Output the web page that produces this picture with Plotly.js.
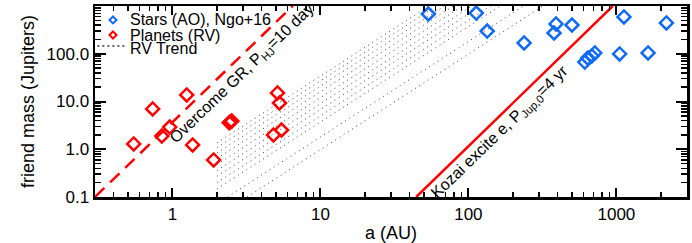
<!DOCTYPE html>
<html><head><meta charset="utf-8">
<script src="https://cdn.plot.ly/plotly-3.0.1.min.js"></script>
<style>html,body{margin:0;padding:0;background:#fff}#chart{width:692px;height:243px}</style>
</head><body><div id="chart"></div>
<script>
// ---- data ----
const starA = [53.6, 113, 134, 238, 391, 379, 501, 612, 641, 682, 715, 1052, 1125, 1637, 2178];
const starM = [680, 713, 299, 168, 420, 272, 400, 67, 81, 90, 104, 99, 589, 104, 441];
const planetA = [0.548, 0.736, 0.848, 0.959, 1.25, 1.37, 1.90, 2.42, 2.47, 2.52, 5.13, 5.29, 4.82, 5.46];
const planetM = [1.29, 6.97, 1.89, 2.92, 13.7, 1.23, 0.596, 3.6, 3.75, 3.9, 15.1, 9.3, 1.99, 2.53];
// RV trend lines: start and end of each (a, mass)
const rvStartA = [2, 2, 2, 2, 2, 2, 2, 2, 2, 2.357, 3.194];
const rvStartM = [1.36, 1.08, 0.84, 0.64, 0.48, 0.36, 0.272, 0.2, 0.148, 0.1, 0.1];
const rvEndA = [54.2, 60.9, 69.0, 79.1, 91.3, 105.4, 121.3, 141.4, 164.4, 235.7, 319.4];
const rvEndM = [1000, 1000, 1000, 1000, 1000, 1000, 1000, 1000, 1000, 1000, 1000];
// limit lines
const grA = [0.3, 6.5], grM = [0.1, 1000];
const kozaiA = [44.4, 946], kozaiM = [0.1, 1000];
// axis ranges, ticks and labels
const xRange = [0.3, 3000], yRange = [0.1, 1000];
const xTickVals = [1, 10, 100, 1000], xTickText = ['1', '10', '100', '1000'];
const yTickVals = [0.1, 1, 10, 100, 1000], yTickText = ['0.1', '1.0', '10.0', '100.0', '1000.0'];
const legendLabels = ['Stars (AO), Ngo+16', 'Planets (RV)', 'RV Trend'];
const grLabel = 'Overcome GR, P<sub>HJ</sub>=10 day';
const kozaiLabel = 'Kozai excite e, P<sub>Jup,0</sub>=4 yr';

// ---- build ----
const BLUE = '#0f6af5', RED = '#ff0000';
const rvX = [], rvY = [];
rvStartA.forEach((a, i) => { rvX.push(a, rvEndA[i], null); rvY.push(rvStartM[i], rvEndM[i], null); });

function minorVals(lo, hi) {
  const v = [];
  for (let e = lo; e <= hi; e++) for (let d = 2; d <= 9; d++) v.push(d * Math.pow(10, e));
  return v;
}

const traces = [
  {x: rvX, y: rvY, mode: 'lines', line: {color: '#444', width: 1, dash: '1px,4px'}, showlegend: false, hoverinfo: 'skip'},
  {x: grA, y: grM, mode: 'lines', line: {color: RED, width: 2.5, dash: '13px,8px'}, showlegend: false},
  {x: kozaiA, y: kozaiM, mode: 'lines', line: {color: RED, width: 2.5}, showlegend: false},
  {x: planetA, y: planetM, mode: 'markers', name: legendLabels[1],
   marker: {symbol: 'diamond-open', size: 10, color: RED, line: {width: 2.5, color: RED}}, showlegend: false},
  {x: starA, y: starM, mode: 'markers', name: legendLabels[0],
   marker: {symbol: 'diamond-open', size: 10, color: BLUE, line: {width: 2.5, color: BLUE}}, showlegend: false},
  // empty trace so the minor-tick overlay axes are drawn
  {x: [], y: [], xaxis: 'x2', yaxis: 'y2', mode: 'markers', showlegend: false, hoverinfo: 'skip'}
];

const FONT = 'Liberation Sans, Arial, Helvetica, sans-serif';
const base = {
  type: 'log', showgrid: false, zeroline: false, showline: true, linecolor: '#000', linewidth: 2.5,
  mirror: 'ticks', ticks: 'inside', tickcolor: '#000', tickmode: 'array', layer: 'above traces',
  tickfont: {family: FONT, size: 17, color: '#000'}
};

const legendShapes = [
  {type: 'path', xref: 'paper', yref: 'paper', xsizemode: 'pixel', ysizemode: 'pixel',
   xanchor: 0.0304, yanchor: 0.927, path: 'M -3.5 0 L 0 3.5 L 3.5 0 L 0 -3.5 Z', line: {color: BLUE, width: 2}},
  {type: 'path', xref: 'paper', yref: 'paper', xsizemode: 'pixel', ysizemode: 'pixel',
   xanchor: 0.0304, yanchor: 0.848, path: 'M -3.5 0 L 0 3.5 L 3.5 0 L 0 -3.5 Z', line: {color: RED, width: 2}},
  {type: 'line', xref: 'paper', yref: 'paper', x0: 0.004, x1: 0.054, y0: 0.79, y1: 0.79,
   line: {color: '#666', width: 2, dash: '2px,3px'}}
];
const legendAnn = legendLabels.map((t, i) => ({
  text: t, xref: 'paper', yref: 'paper', x: 0.0557, y: [0.927, 0.848, 0.775][i],
  xanchor: 'left', yanchor: 'middle', showarrow: false, font: {family: FONT, size: 16, color: '#000'}
}));

const layout = {
  width: 692, height: 243,
  margin: {l: 95, r: 5, t: 6, b: 46, pad: 0},
  paper_bgcolor: '#fff', plot_bgcolor: '#fff',
  showlegend: false,
  font: {family: FONT, color: '#000'},
  xaxis: Object.assign({}, base, {
    range: xRange.map(Math.log10), tickvals: xTickVals, ticktext: xTickText, ticklen: 9, tickwidth: 2,
    title: {text: 'a (AU)', font: {family: FONT, size: 18, color: '#000'}, standoff: 4}
  }),
  yaxis: Object.assign({}, base, {
    range: yRange.map(Math.log10), tickvals: yTickVals, ticktext: yTickText, ticklen: 11, tickwidth: 2,
    title: {text: 'friend mass (Jupiters)', font: {family: FONT, size: 18, color: '#000'}, standoff: 8}
  }),
  xaxis2: Object.assign({}, base, {
    overlaying: 'x', side: 'bottom', range: xRange.map(Math.log10), tickvals: minorVals(-1, 3),
    ticklen: 5, tickwidth: 1.5, showticklabels: false
  }),
  yaxis2: Object.assign({}, base, {
    overlaying: 'y', side: 'left', range: yRange.map(Math.log10), tickvals: minorVals(-1, 2),
    ticklen: 6, tickwidth: 1.5, showticklabels: false
  }),
  shapes: legendShapes,
  annotations: legendAnn.concat([
    {text: grLabel, xref: 'x', yref: 'y', x: Math.log10(2.98), y: Math.log10(37.7), textangle: -44,
     showarrow: false, font: {family: FONT, size: 16, color: '#000'}},
    {text: kozaiLabel, xref: 'x', yref: 'y', x: Math.log10(163.6), y: Math.log10(2.19), textangle: -44,
     showarrow: false, font: {family: FONT, size: 16, color: '#000'}}
  ])
};

Plotly.newPlot('chart', traces, layout, {displayModeBar: false, staticPlot: true});
</script>
</body></html>
